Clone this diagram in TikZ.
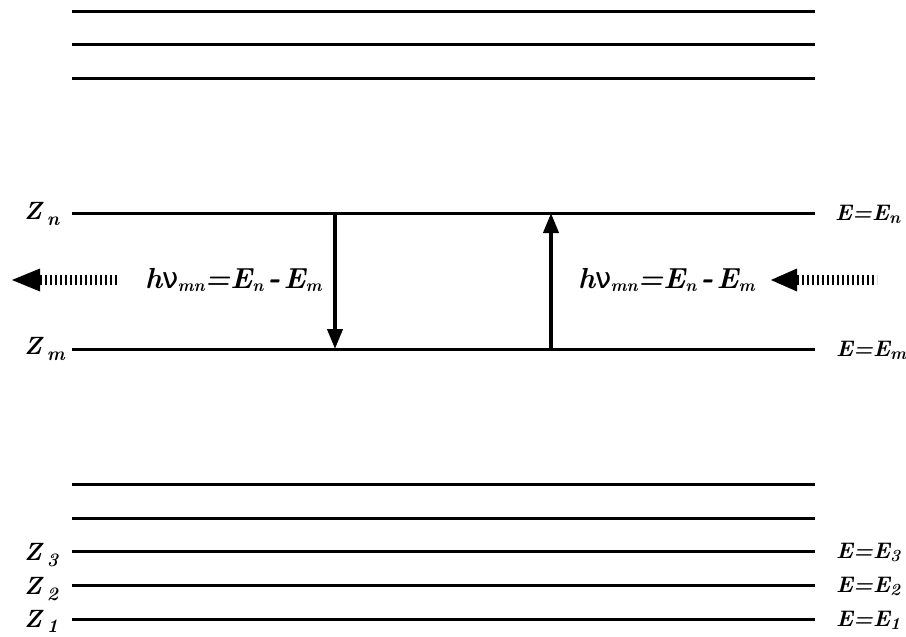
\documentclass[tikz,border=0pt]{standalone}
\usepackage{fontspec}
\newfontfamily\greekfont{DejaVu Sans}
\usetikzlibrary{arrows.meta}
% small lowered subscripts
\newcommand{\lsub}[2]{\raisebox{#1}{\fontsize{19}{19}\selectfont #2}}
\newcommand{\esub}[1]{\raisebox{-3pt}{\fontsize{17}{17}\selectfont #1}}
\newcommand{\photon}{h{\greekfont\mdseries\upshape ν}\hspace{-1pt}\esub{mn}=E\esub{n}\hspace{4pt}{\fontsize{32}{32}\selectfont -}\hspace{3pt}E\esub{m}}
\begin{document}
\begin{tikzpicture}[x=1pt,y=-1pt,
  level/.style={line width=3pt},
  trans/.style={line width=4pt,-{Triangle[length=20pt,width=15pt]}},
  shaft/.style={line width=10pt,dash pattern=on 2pt off 3pt},
  head/.style={fill=black},
  zlab/.style={anchor=base west,inner sep=0pt,font=\fontsize{25}{25}\selectfont\bfseries\itshape},
  elab/.style={anchor=base west,inner sep=0pt,font=\fontsize{22.5}{22.5}\selectfont\bfseries\itshape},
  eqlab/.style={anchor=west,inner sep=0pt,font=\fontsize{29}{29}\selectfont\bfseries\itshape}]
\useasboundingbox (0,0) rectangle (906,637);

% energy levels
\foreach \name/\y in {a/11,b/44,c/78,n/213,m/349,d/484,e/518,l3/551,l2/585,l1/619}{
  \coordinate (\name W) at (72,\y);
  \coordinate (\name E) at (815,\y);
  \draw[level] (\name W) -- (\name E);
}

% level labels, left
\node[zlab] (zn) at (24,219) {Z\hspace{5pt}\lsub{-6pt}{n}};
\node[zlab] (zm) at (24,354) {Z\hspace{5pt}\lsub{-6pt}{m}};
\node[zlab] (z3) at (24,560) {Z\hspace{5pt}\lsub{-6pt}{3}};
\node[zlab] (z2) at (24,594) {Z\hspace{5pt}\lsub{-6pt}{2}};
\node[zlab] (z1) at (24,627) {Z\hspace{5pt}\lsub{-5pt}{1}};

% level labels, right
\node[elab] (en) at (835,220) {E=E\esub{n}};
\node[elab] (em) at (836,356) {E=E\esub{m}};
\node[elab] (e3) at (836,558) {E=E\esub{3}};
\node[elab] (e2) at (836,592) {E=E\esub{2}};
\node[elab] (e1) at (836,626) {E=E\esub{1}};

% emission and absorption
\coordinate (dn) at (335,213);
\coordinate (dm) at (335,349);
\coordinate (un) at (551,213);
\coordinate (um) at (551,349);
\draw[trans] (dn) -- (dm);
\draw[trans] (um) -- (un);

\node[eqlab] (emit) at (145,280) {\photon};
\node[eqlab] (abs) at (578,280) {\photon};

% outgoing photon
\coordinate (otip) at (12,280);
\coordinate (obase) at (40,280);
\coordinate (oend) at (118,280);
\draw[shaft] (obase) -- (oend);
\fill[head] (otip) -- ([yshift=-11.5pt]obase) -- ([yshift=11.5pt]obase) -- cycle;

% incoming photon
\coordinate (itip) at (771,280);
\coordinate (ibase) at (797,280);
\coordinate (iend) at (877,280);
\draw[shaft] (ibase) -- (iend);
\fill[head] (itip) -- ([yshift=-11.5pt]ibase) -- ([yshift=11.5pt]ibase) -- cycle;
\end{tikzpicture}
\end{document}
